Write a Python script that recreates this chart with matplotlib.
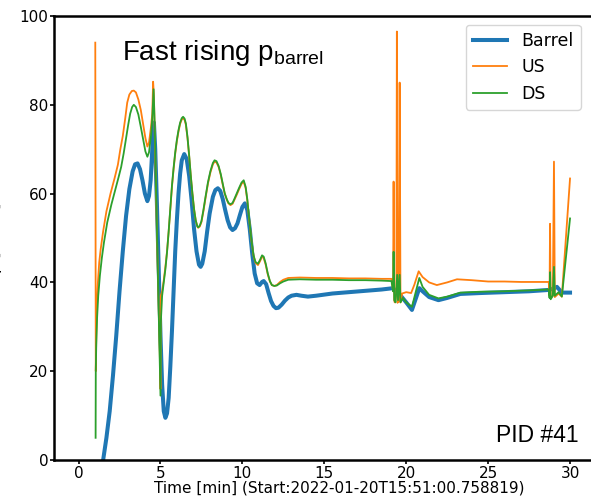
import matplotlib.pyplot as plt

plt.rcParams['mathtext.fontset'] = 'custom'
plt.rcParams['mathtext.rm'] = 'Liberation Sans'

# Barrel pressure (time in min, p in mbar)
t_barrel = [1.3, 1.5, 1.7, 1.9, 2.1, 2.3, 2.5, 2.7, 2.9, 3.1, 3.3, 3.45, 3.6, 3.75, 3.9,
            4.05, 4.2, 4.3, 4.4, 4.5, 4.6, 4.68, 4.78, 4.9, 5.0, 5.1, 5.2, 5.3, 5.4, 5.5,
            5.6, 5.7, 5.8, 5.9, 6.0, 6.1, 6.2, 6.3, 6.45, 6.6, 6.75, 6.9, 7.05, 7.2, 7.35,
            7.45, 7.55, 7.7, 7.85, 8.0, 8.2, 8.35, 8.5, 8.65, 8.8, 8.95, 9.1, 9.25, 9.4,
            9.55, 9.7, 9.85, 10.0, 10.15, 10.3, 10.45, 10.6, 10.75, 10.9, 11.05, 11.2, 11.3,
            11.45, 11.6, 11.75, 11.9, 12.05, 12.2, 12.4, 12.6, 12.8, 13.0, 13.3, 13.6, 14.0,
            14.5, 15.5, 16.5, 17.5, 18.5, 19.2, 19.6, 20.0, 20.35, 20.8, 21.0, 21.4, 21.97,
            22.5, 23.3, 24.5, 26.0, 27.5, 28.7, 29.0, 29.2, 29.5, 30.0]
p_barrel = [-5, 0, 5, 11, 19, 28, 38, 47, 55, 61, 65, 66.6, 66.8, 65.5, 63,
            60, 58.3, 59.5, 63, 70, 76, 70, 58, 42, 28, 17, 11, 9.5, 10.5, 14,
            21, 29, 38, 47, 54, 60, 64.5, 67.5, 68.9, 67.8, 64, 58.5, 52, 47, 44,
            43.5, 44.2, 47, 51.5, 55.5, 59.3, 60.8, 61.2, 60.6, 58.8, 56.3, 54, 52.4, 51.8,
            52.2, 53.3, 55.2, 57, 57.8, 56.3, 52, 46.5, 42, 39.8, 39.4, 40.1, 40.3,
            39.6, 37.6, 35.8, 34.7, 34.2, 34.3, 35, 35.9, 36.6, 37.0, 37.2, 37.0, 36.8,
            37.0, 37.5, 37.8, 38.1, 38.4, 38.7, 37.3, 35.5, 33.8, 38.7, 38, 36.7, 36,
            36.5, 37.4, 37.6, 37.8, 38.0, 38.3, 38.6, 39.0, 37.7, 37.7]

# Upstream pressure
t_us = [1.02, 1.05, 1.08, 1.12, 1.18, 1.26, 1.35, 1.5, 1.7, 1.95, 2.2, 2.4, 2.55, 2.7,
        2.85, 2.97, 3.1, 3.25, 3.37, 3.5, 3.65, 3.8, 3.95, 4.08, 4.2, 4.3, 4.42, 4.5,
        4.55, 4.6, 4.7, 4.8, 4.9, 4.97, 5.0, 5.02, 5.1, 5.2, 5.3, 5.4, 5.5, 5.6, 5.7,
        5.8, 5.9, 6.0, 6.1, 6.2, 6.3, 6.38, 6.47, 6.55, 6.65, 6.75, 6.85, 6.95, 7.05,
        7.15, 7.25, 7.3, 7.4, 7.5, 7.62, 7.75, 7.9, 8.05, 8.2, 8.3, 8.42, 8.55, 8.68,
        8.8, 8.92, 9.05, 9.15, 9.27, 9.4, 9.5, 9.65, 9.8, 9.95, 10.08, 10.2, 10.3, 10.42,
        10.55, 10.68, 10.8, 10.95, 11.08, 11.2, 11.3, 11.42, 11.55, 11.68, 11.8, 11.95,
        12.1, 12.3, 12.5, 12.8, 13.5, 14.5, 15.5, 16.5, 17.5, 18.5, 19.1, 19.2, 19.23,
        19.27, 19.3, 19.4, 19.43, 19.47, 19.55, 19.6, 19.65, 19.75, 20.0, 20.3, 20.5,
        20.76, 21.0, 21.4, 21.87, 22.5, 23.1, 24.0, 25.0, 26.0, 27.0, 28.7, 28.75, 28.78,
        28.82, 28.95, 29.02, 29.07, 29.3, 29.5, 30.0]
p_us = [94, 20, 28, 34, 40, 44.5, 47.5, 51.5, 56, 60, 63.5, 66.5, 70, 73,
        77, 80.5, 82.3, 83.1, 83.2, 82.8, 81.2, 78.8, 75.5, 72.5, 70.6, 71.5, 75, 78,
        85.2, 82, 65, 48, 33, 22, 16, 37, 38, 40.5, 43.5, 47, 51.5, 56.5, 61.5,
        65.5, 69, 71.8, 74, 75.7, 76.7, 77, 76.6, 75.5, 72.5, 68.5, 64, 60, 56.5,
        54, 52.6, 52.3, 52.6, 53.6, 56, 59, 62.3, 64.8, 66.6, 67.2, 67, 66, 64.2,
        62, 60, 58.6, 57.8, 57.4, 57.7, 58.5, 59.7, 61, 62.2, 62.7, 61.2, 58.5, 54,
        49.5, 46, 44.4, 43.9, 44.8, 45.8, 45.5, 44, 41.8, 40.2, 39.4, 39.2,
        39.4, 40.1, 40.6, 41.0, 41.1, 41.0, 41.0, 40.9, 40.9, 40.8, 40.8, 38, 62.7,
        36, 35.5, 38, 96.5, 35.4, 36, 85, 35.5, 37.5, 37.8, 37.6, 39.5,
        42.5, 41.2, 40, 39.4, 40.0, 40.7, 40.5, 40.2, 40.2, 40.1, 40.1, 37, 53.2,
        36.5, 37, 67.2, 36.7, 37.5, 36.8, 63.4]

# Downstream pressure
t_ds = [1.04, 1.05, 1.08, 1.13, 1.2, 1.3, 1.42, 1.55, 1.75, 2.0, 2.25, 2.45, 2.6, 2.75,
        2.9, 3.03, 3.15, 3.27, 3.37, 3.5, 3.65, 3.8, 3.95, 4.08, 4.2, 4.3, 4.42, 4.5,
        4.58, 4.65, 4.75, 4.85, 4.95, 5.0, 5.02, 5.1, 5.2, 5.3, 5.4, 5.5, 5.6, 5.7,
        5.8, 5.9, 6.0, 6.1, 6.2, 6.3, 6.38, 6.47, 6.55, 6.65, 6.75, 6.85, 6.95, 7.05,
        7.15, 7.25, 7.3, 7.4, 7.5, 7.62, 7.75, 7.9, 8.05, 8.2, 8.3, 8.42, 8.55, 8.68,
        8.8, 8.92, 9.05, 9.15, 9.27, 9.4, 9.5, 9.65, 9.8, 9.95, 10.08, 10.2, 10.3, 10.42,
        10.55, 10.68, 10.8, 10.95, 11.08, 11.2, 11.3, 11.42, 11.55, 11.68, 11.8, 11.95,
        12.1, 12.3, 12.5, 12.8, 13.5, 14.5, 15.5, 16.5, 17.5, 18.5, 19.1, 19.2, 19.23,
        19.27, 19.35, 19.45, 19.5, 19.6, 19.65, 19.8, 20.0, 20.35, 20.8, 21.0, 21.4,
        21.97, 22.5, 23.3, 24.5, 26.0, 27.5, 28.7, 28.75, 28.78, 28.82, 28.95, 29.02,
        29.07, 29.3, 29.5, 30.0]
p_ds = [5, 20, 26, 32, 37, 41.5, 45.5, 49, 53.5, 57.5, 61, 63.8, 66, 69,
        72.5, 75.5, 78, 79.5, 80, 79.5, 77.8, 75, 72, 69.5, 68.3, 69.3, 73, 77,
        83.5, 75, 58, 40, 23, 14.5, 31, 37, 40, 43, 46.8, 51.5, 56.7, 61.8,
        65.8, 69.3, 72.1, 74.3, 76, 77, 77.3, 76.9, 75.8, 72.7, 68.6, 64, 60, 56.5,
        54, 52.6, 52.4, 52.8, 53.8, 56.3, 59.3, 62.6, 65.1, 66.9, 67.5, 67.3, 66.2, 64.4,
        62.2, 60.1, 58.7, 57.9, 57.6, 57.9, 58.7, 60, 61.3, 62.5, 63.0, 61.5, 58.7, 54.2,
        49.6, 46.1, 44.6, 44.2, 45.1, 46.1, 45.8, 44.3, 42, 40.3, 39.4, 39.2,
        39.3, 39.8, 40.2, 40.6, 40.7, 40.6, 40.6, 40.5, 40.5, 40.4, 40.3, 38, 46.9,
        36, 35.5, 41.7, 36, 41.7, 35.5, 36.5, 35.5, 34.5, 41.0, 39, 37.2,
        36.4, 36.8, 37.7, 37.9, 38.0, 38.2, 38.4, 36.5, 42.3, 36.2, 37, 43.5,
        37, 37.8, 36.8, 54.4]

fig = plt.figure(figsize=(5.91, 4.96), dpi=100)
ax = fig.add_axes([54 / 591, 36 / 496, 540.6 / 591, 444 / 496])

ax.plot(t_barrel, p_barrel, color='#1f77b4', lw=2.9, label='Barrel')
ax.plot(t_us, p_us, color='#ff7f0e', lw=1.3, label='US')
ax.plot(t_ds, p_ds, color='#2ca02c', lw=1.3, label='DS')

ax.set_xlim(-1.5, 31.5)
ax.set_ylim(0, 100)
ax.set_xticks([0, 5, 10, 15, 20, 25, 30])
ax.set_yticks([0, 20, 40, 60, 80, 100])
ax.tick_params(labelsize=11, length=3, width=1.2, pad=1)
for s in ['left', 'bottom', 'top']:
    ax.spines[s].set_linewidth(1.8)
ax.spines['right'].set_visible(False)

ax.set_xlabel('Time [min] (Start:2022-01-20T15:51:00.758819)', fontsize=11)
ax.xaxis.set_label_coords(0.527, -0.047)
ax.set_ylabel('p [mbar]', fontsize=11.5)
ax.yaxis.set_label_coords(-0.097, 0.5)

ax.legend(loc='upper right', fontsize=12.5, bbox_to_anchor=(0.99, 1.0))

ax.text(0.125, 0.9, r'Fast rising p$_{\mathrm{barrel}}$', transform=ax.transAxes,
        fontsize=20, family='Liberation Sans')
ax.text(0.97, 0.04, 'PID #41', transform=ax.transAxes, ha='right',
        fontsize=16.5, family='Liberation Sans')

fig.savefig('out.png', dpi=100)
